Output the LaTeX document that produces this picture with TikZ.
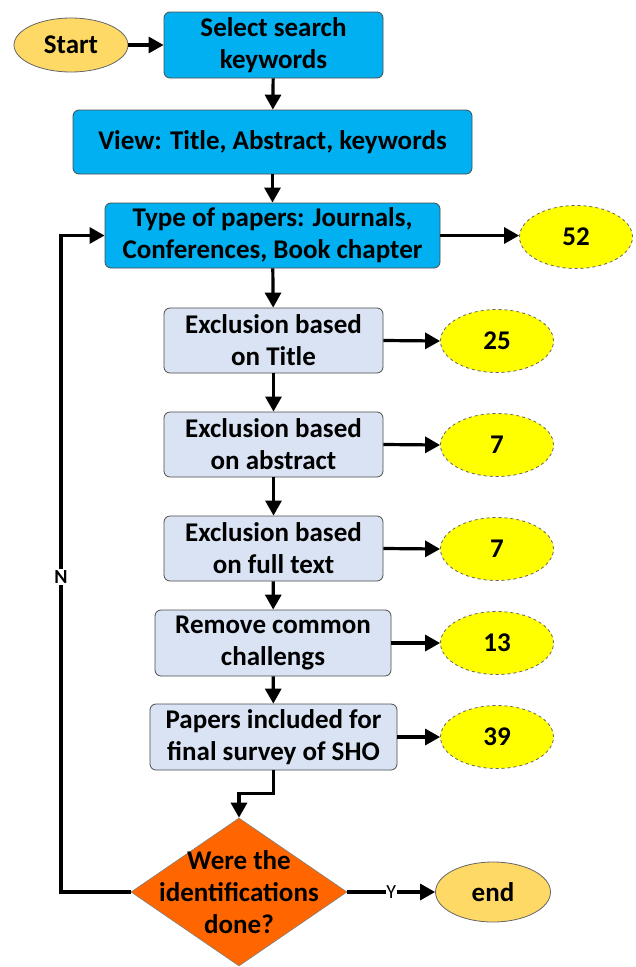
\documentclass[tikz,border=0pt]{standalone}
\usepackage{fontspec}
\setmainfont{Carlito}
\usetikzlibrary{shapes.geometric,arrows.meta}
\definecolor{boxblue}{HTML}{00B0F0}
\definecolor{boxgrey}{HTML}{DAE3F3}
\definecolor{termfill}{HTML}{FFD966}
\definecolor{cntfill}{HTML}{FFFF00}
\definecolor{decfill}{HTML}{FF6600}
\begin{document}
\begin{tikzpicture}[x=1pt,y=-1pt,
  txt/.style={font=\fontsize{27}{32}\selectfont\bfseries, align=center, inner sep=0pt},
  bluebox/.style={txt, rectangle, rounded corners=6pt, fill=boxblue, draw=black!70, line width=0.8pt},
  greybox/.style={txt, rectangle, rounded corners=6pt, fill=boxgrey, draw=black!70, line width=0.8pt, minimum width=219pt, minimum height=65pt},
  term/.style={txt, ellipse, fill=termfill, draw=black!60, line width=0.8pt},
  cnt/.style={txt, ellipse, fill=cntfill, draw=black!60, dashed, line width=0.8pt, minimum width=113pt, minimum height=63pt},
  arr/.style={line width=3.2pt, -{Triangle[length=15pt,width=16pt]}}]
\useasboundingbox (0,0) rectangle (636,967);

\node[term, minimum width=114pt, minimum height=54pt] (start) at (71,45) {Start};
\node[bluebox, minimum width=219pt, minimum height=66pt] (sel) at (273.5,45) {Select search\\keywords};
\node[bluebox, minimum width=399pt, minimum height=64pt] (view) at (272.5,142) {View: Title, Abstract, keywords};
\node[bluebox, minimum width=335pt, minimum height=65pt] (type) at (272.5,235.5) {Type of papers: Journals,\\Conferences, Book chapter};
\node[cnt] (n52) at (576,237) {52};

\node[greybox] (t1) at (273.5,340.5) {Exclusion based\\on Title};
\node[cnt] (n25) at (497,341) {25};
\node[greybox] (t2) at (273.5,444.5) {Exclusion based\\on abstract};
\node[cnt] (n7a) at (497,445) {7};
\node[greybox] (t3) at (273.5,548.5) {Exclusion based\\on full text};
\node[cnt] (n7b) at (497,549) {7};
\node[greybox, minimum width=236pt, minimum height=66pt] (t4) at (273,643) {Remove common\\challengs};
\node[cnt] (n13) at (497,643) {13};
\node[greybox, minimum width=247pt, minimum height=66pt] (t5) at (273.5,737) {Papers included for\\final survey of SHO};
\node[cnt] (n39) at (497,737) {39};

\node[diamond, fill=decfill, draw=black!50, line width=0.6pt, inner sep=0pt, minimum width=216pt, minimum height=148pt,
  label={[txt]center:Were the\\identifications\\done?}] (dia) at (239,892) {};
\node[term, minimum width=115pt, minimum height=60pt] (end) at (493,892) {end};

\coordinate (fb) at (61,235.5);

\draw[arr] (start) -- (sel);
\draw[arr] (sel) -- (view);
\draw[arr] (view) -- (type);
\draw[arr] (type.east) -- (n52.west |- type.east);
\draw[arr] (type) -- (t1);
\draw[arr] (t1) -- (t2);
\draw[arr] (t2) -- (t3);
\draw[arr] (t3) -- (t4);
\draw[arr] (t4) -- (t5);
\draw[arr] (t1.east) -- (n25.west);
\draw[arr] (t2.east) -- (n7a.west);
\draw[arr] (t3.east) -- (n7b.west);
\draw[arr] (t4.east) -- (n13.west);
\draw[arr] (t5.east) -- (n39.west);
\draw[arr] (t5.south) -- ++(0,23) -| (dia.north);
\draw[arr] (dia.west) -- (dia.west -| fb) -- node[fill=white, font=\fontsize{20}{20}\selectfont\bfseries, inner sep=1.5pt, pos=0.48] {N} (fb) -- (type.west);
\draw[arr] (dia.east) -- node[fill=white, font=\fontsize{20}{20}\selectfont, inner sep=0.5pt, pos=0.5] {Y} (end.west);
\end{tikzpicture}
\end{document}
